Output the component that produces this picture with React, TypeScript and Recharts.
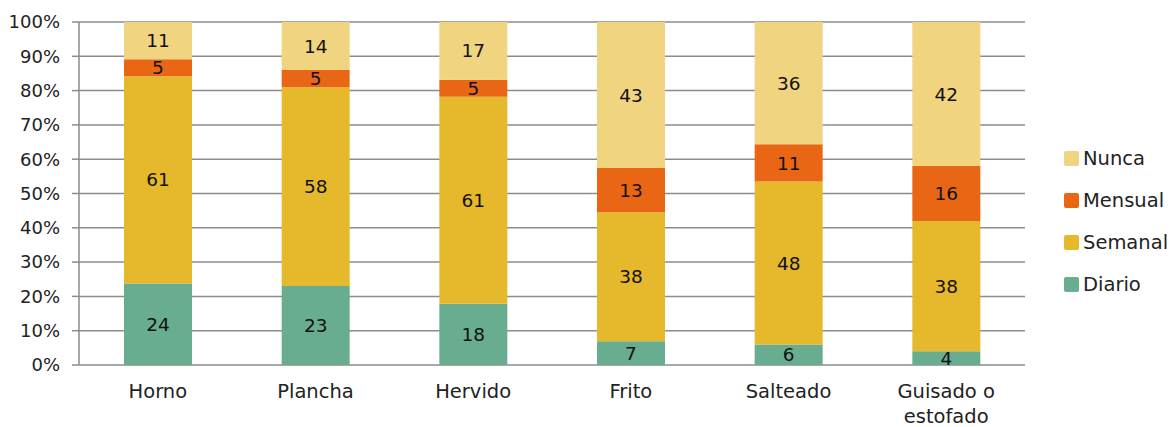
import React from 'react';
import { BarChart, Bar, XAxis, YAxis, CartesianGrid, LabelList } from 'recharts';

const categories = ['Horno', 'Plancha', 'Hervido', 'Frito', 'Salteado', 'Guisado o estofado'];
const diario = [24, 23, 18, 7, 6, 4];
const semanal = [61, 58, 61, 38, 48, 38];
const mensual = [5, 5, 5, 13, 11, 16];
const nunca = [11, 14, 17, 43, 36, 42];
const yTicks = [0, 0.1, 0.2, 0.3, 0.4, 0.5, 0.6, 0.7, 0.8, 0.9, 1];
const boundaryTicks = [0, 1, 2, 3, 4, 5, 6];

const data = categories.map((name, i) => ({
  name,
  pos: i + 0.5,
  diario: diario[i],
  semanal: semanal[i],
  mensual: mensual[i],
  nunca: nunca[i],
}));

const FONT = '"DejaVu Sans", sans-serif';
const GRID = '#8c8c8c';

const series = [
  { key: 'diario', name: 'Diario', color: '#68ad8f' },
  { key: 'semanal', name: 'Semanal', color: '#e6b82b' },
  { key: 'mensual', name: 'Mensual', color: '#e96615' },
  { key: 'nunca', name: 'Nunca', color: '#f0d47f' },
];

// wrap long category names into lines of at most ~12 chars
const wrap = (s: string) => {
  const lines: string[] = [];
  let cur = '';
  s.split(' ').forEach((w) => {
    const next = cur ? cur + ' ' + w : w;
    if (next.length > 12 && cur) {
      lines.push(cur);
      cur = w;
    } else cur = next;
  });
  lines.push(cur);
  return lines;
};

const CategoryTick = (props: any) => {
  const { x, y, payload } = props;
  return (
    <text x={x} y={y + 25} textAnchor="middle" fontSize={19.5} fontFamily={FONT} fill="#222">
      {wrap(payload.value).map((l, i) => (
        <tspan key={i} x={x} dy={i === 0 ? 0 : 25}>{l}</tspan>
      ))}
    </text>
  );
};

const LegendBox = () => (
  <div style={{ position: 'absolute', left: 1064, top: 137, fontFamily: FONT, fontSize: 19.5, color: '#222' }}>
    {[...series].reverse().map((s) => (
      <div key={s.key} style={{ display: 'flex', alignItems: 'center', height: 42 }}>
        <span style={{ width: 15, height: 15, background: s.color, borderRadius: 2, marginRight: 4 }} />
        <span>{s.name}</span>
      </div>
    ))}
  </div>
);

export default function App() {
  return (
    <div style={{ position: 'fixed', left: 0, top: 0, width: 1175, height: 427, background: '#fff' }}>
      <BarChart
        width={1175}
        height={427}
        data={data}
        stackOffset="expand"
        margin={{ top: 22, right: 150, bottom: 0, left: 0 }}
      >
        <CartesianGrid vertical={false} stroke={GRID} strokeWidth={1.5} />
        <XAxis
          xAxisId="bound"
          type="number"
          dataKey="pos"
          domain={[0, 6]}
          ticks={boundaryTicks}
          tick={false}
          height={0}
          stroke={GRID}
          strokeWidth={1.5}
          tickSize={8}
        />
        <XAxis
          dataKey="name"
          axisLine={false}
          tickLine={false}
          height={62}
          tick={<CategoryTick />}
          interval={0}
        />
        <YAxis
          ticks={yTicks}
          domain={[0, 1]}
          tickFormatter={(v: number) => `${Math.round(v * 100)}%`}
          width={79}
          stroke={GRID}
          strokeWidth={1.5}
          tickSize={7}
          tickMargin={12}
          tick={{ fill: '#222', fontSize: 18, fontFamily: FONT }}
          interval={0}
        />
        {series.map((s) => (
          <Bar key={s.key} dataKey={s.key} name={s.name} stackId="a" fill={s.color}
            barSize={68} isAnimationActive={false}>
            <LabelList dataKey={s.key} position="center" fill="#111" fontSize={18.5} fontFamily={FONT} />
          </Bar>
        ))}
      </BarChart>
      <LegendBox />
    </div>
  );
}
